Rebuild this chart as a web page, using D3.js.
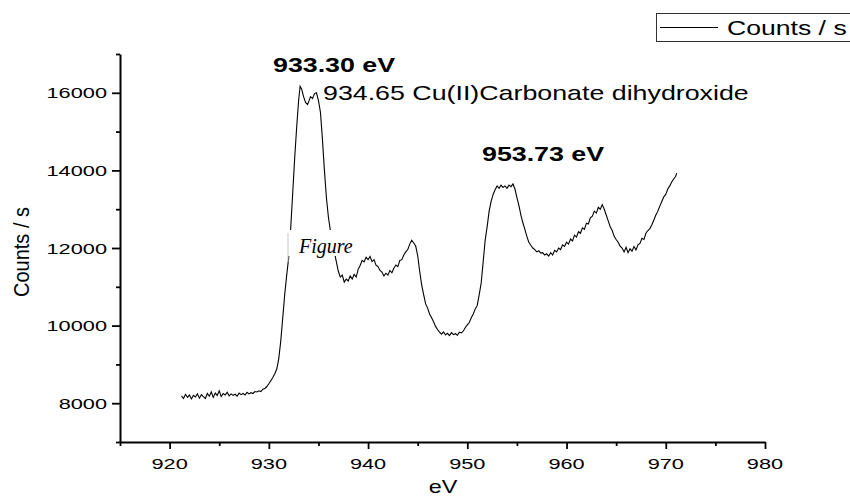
<!DOCTYPE html>
<html>
<head>
<meta charset="utf-8">
<script src="https://cdn.jsdelivr.net/npm/d3@7"></script>
<style>
  body { margin: 0; background: #fff; }
  svg { display: block; }
  text { font-family: "Liberation Sans", Arial, sans-serif; fill: #000; }
</style>
</head>
<body>
<svg id="chart" width="850" height="499"></svg>
<script>
// XPS Cu 2p spectrum
const energy = [
  921.2, 921.4, 921.6, 921.8, 922.0, 922.2, 922.4, 922.6, 922.8, 923.0,
  923.2, 923.4, 923.6, 923.8, 924.0, 924.2, 924.4, 924.6, 924.8, 925.0,
  925.2, 925.4, 925.6, 925.8, 926.0, 926.2, 926.4, 926.6, 926.8, 927.0,
  927.2, 927.4, 927.6, 927.8, 928.0, 928.2, 928.4, 928.6, 928.8, 929.0,
  929.2, 929.4, 929.6, 929.8, 930.0, 930.2, 930.4, 930.6, 930.8, 931.0,
  931.2, 931.4, 931.6, 931.8, 932.0, 932.2, 932.4, 932.6, 932.8, 933.0,
  933.15, 933.3, 933.5, 933.7, 933.9, 934.0, 934.2, 934.4, 934.6, 934.8,
  935.0, 935.2, 935.4, 935.6, 935.8, 936.0, 936.2, 936.4, 936.6, 936.8,
  937.0, 937.2, 937.4, 937.6, 937.8, 938.0, 938.2, 938.4, 938.6, 938.8,
  939.0, 939.2, 939.4, 939.6, 939.8, 940.0, 940.2, 940.4, 940.6, 940.8,
  941.0, 941.2, 941.4, 941.6, 941.8, 942.0, 942.2, 942.4, 942.6, 942.8,
  943.0, 943.2, 943.4, 943.6, 943.8, 944.0, 944.2, 944.4, 944.6, 944.8,
  945.0, 945.2, 945.4, 945.6, 945.8, 946.0, 946.2, 946.4, 946.6, 946.8,
  947.0, 947.2, 947.4, 947.6, 947.8, 948.0, 948.2, 948.4, 948.6, 948.8,
  949.0, 949.2, 949.4, 949.6, 949.8, 950.0, 950.2, 950.4, 950.6, 950.8,
  951.0, 951.2, 951.4, 951.6, 951.8, 952.0, 952.2, 952.4, 952.6, 952.8,
  953.0, 953.2, 953.4, 953.6, 953.8, 954.0, 954.2, 954.4, 954.6, 954.8,
  955.0, 955.2, 955.4, 955.6, 955.8, 956.0, 956.2, 956.4, 956.6, 956.8,
  957.0, 957.2, 957.4, 957.6, 957.8, 958.0, 958.2, 958.4, 958.6, 958.8,
  959.0, 959.2, 959.4, 959.6, 959.8, 960.0, 960.2, 960.4, 960.6, 960.8,
  961.0, 961.2, 961.4, 961.6, 961.8, 962.0, 962.2, 962.4, 962.6, 962.8,
  963.0, 963.2, 963.4, 963.6, 963.8, 964.0, 964.2, 964.4, 964.6, 964.8,
  965.0, 965.2, 965.4, 965.6, 965.8, 966.0, 966.2, 966.4, 966.6, 966.8,
  967.0, 967.2, 967.4, 967.6, 967.8, 968.0, 968.2, 968.4, 968.6, 968.8,
  969.0, 969.2, 969.4, 969.6, 969.8, 970.0, 970.2, 970.4, 970.6, 970.8,
  971.0, 971.1
];

const counts = [
  8190, 8120, 8230, 8150, 8210, 8110, 8200, 8160, 8240, 8130,
  8220, 8170, 8120, 8250, 8180, 8290, 8150, 8260, 8200, 8320,
  8170, 8250, 8210, 8280, 8190, 8240, 8200, 8230, 8180, 8260,
  8220, 8250, 8210, 8280, 8240, 8270, 8250, 8300, 8290, 8320,
  8300, 8360, 8380, 8430, 8500, 8580, 8660, 8760, 8880, 9150,
  9600, 10200, 10800, 11300, 11750, 12500, 13400, 14300, 15100, 15800,
  16170, 16100, 15900, 15750, 15700, 15760, 15900, 15850, 15980, 16000,
  15800, 15500, 14800, 14000, 13300, 12800, 12450, 12150, 11900, 11650,
  11400, 11250, 11300, 11120, 11200, 11150, 11280, 11200, 11320, 11250,
  11450, 11550, 11680, 11640, 11760, 11700, 11780, 11650, 11700, 11560,
  11520, 11420, 11380, 11280, 11350, 11300, 11420, 11360, 11480, 11560,
  11520, 11680, 11700, 11820, 11900, 11960, 12100, 12200, 12130, 12050,
  11800, 11400, 11050, 10800, 10560, 10450, 10300, 10200, 10100, 9980,
  9900, 9830, 9780, 9840, 9760, 9800, 9740, 9820, 9770, 9790,
  9750, 9830, 9810, 9860, 9950, 10020, 10080, 10200, 10300, 10430,
  10520, 10800, 11100, 11650, 12200, 12550, 12950, 13200, 13380, 13500,
  13600, 13540, 13620, 13560, 13600, 13540, 13620, 13580, 13650, 13520,
  13300, 13100, 12850, 12650, 12480, 12300, 12150, 12070, 12000, 11960,
  11900, 11930, 11870, 11880, 11820, 11850, 11790, 11880, 11820, 11940,
  11900, 12000, 11960, 12080, 12040, 12150, 12100, 12230, 12180, 12330,
  12280, 12420, 12380, 12520, 12480, 12640, 12620, 12780, 12820, 12950,
  12900, 13050, 13000, 13120, 13000, 12850, 12700, 12550, 12450, 12300,
  12220, 12150, 12050, 12000, 11900, 12020, 11880, 11980, 11920, 12040,
  11950, 12080, 12120, 12250, 12220, 12380, 12450, 12500, 12600, 12720,
  12850, 12950, 13080, 13200, 13320, 13380, 13520, 13600, 13700, 13780,
  13850, 13930
];

const xMajorTicks = [920, 930, 940, 950, 960, 970, 980];
const xMinorTicks = [915, 925, 935, 945, 955, 965, 975];
const yMajorTicks = [8000, 10000, 12000, 14000, 16000];
const yMinorTicks = [7000, 9000, 11000, 13000, 15000, 17000];

const peakLabels = [
  { text: "933.30 eV", bold: true, x: 273, y: 72 },
  { text: "934.65 Cu(II)Carbonate dihydroxide", bold: false, x: 323, y: 100 },
  { text: "953.73 eV", bold: true, x: 482, y: 161 }
];

const svg = d3.select("#chart");

const x = d3.scaleLinear().domain([915, 980]).range([120, 765]);
const y = d3.scaleLinear().domain([7000, 17000]).range([442, 54]);

// the picture is stretched sideways, so text is too
const stretch = 1.45;

// line
const pts = energy.map((e, i) => [e, counts[i]]);
svg.append("path")
  .datum(pts)
  .attr("fill", "none")
  .attr("stroke", "#000")
  .attr("stroke-width", 1.1)
  .attr("d", d3.line().x(d => x(d[0])).y(d => y(d[1])));

// axes
const xAxis = svg.append("g").attr("transform", `translate(0,${y.range()[0]})`);
xAxis.call(d3.axisBottom(x).tickValues(xMajorTicks).tickSize(7).tickSizeOuter(0).tickFormat(""));
xAxis.append("g").call(d3.axisBottom(x).tickValues(xMinorTicks).tickSize(4).tickSizeOuter(0).tickFormat(""))
  .select(".domain").remove();

const yAxis = svg.append("g").attr("transform", `translate(${x.range()[0]},0)`);
yAxis.call(d3.axisLeft(y).tickValues(yMajorTicks).tickSize(8).tickSizeOuter(0).tickFormat(""));
yAxis.append("g").call(d3.axisLeft(y).tickValues(yMinorTicks).tickSize(4).tickSizeOuter(0).tickFormat(""))
  .select(".domain").remove();

svg.selectAll(".domain").attr("stroke", "#000").attr("stroke-width", 2);
svg.selectAll(".tick line").attr("stroke", "#000").attr("stroke-width", 1.8);

// tick labels
svg.selectAll(".xlab")
  .data(xMajorTicks)
  .join("text")
  .attr("class", "xlab")
  .attr("transform", d => `translate(${x(d)},469) scale(${stretch},1)`)
  .attr("text-anchor", "middle")
  .attr("font-size", 15)
  .text(d => d);

svg.selectAll(".ylab")
  .data(yMajorTicks)
  .join("text")
  .attr("class", "ylab")
  .attr("transform", d => `translate(107,${y(d) + 5.5}) scale(${stretch},1)`)
  .attr("text-anchor", "end")
  .attr("font-size", 15)
  .text(d => d);

// axis titles
svg.append("text")
  .attr("transform", `translate(443,493) scale(1.3,1)`)
  .attr("text-anchor", "middle")
  .attr("font-size", 18)
  .text("eV");

svg.append("text")
  .attr("transform", `translate(29,252) scale(1.1,1) rotate(-90)`)
  .attr("text-anchor", "middle")
  .attr("font-size", 20)
  .text("Counts / s");

// peak annotations
svg.selectAll(".peak")
  .data(peakLabels)
  .join("text")
  .attr("class", "peak")
  .attr("transform", d => `translate(${d.x},${d.y}) scale(1.34,1)`)
  .attr("font-size", 20)
  .attr("font-weight", d => d.bold ? "bold" : "normal")
  .text(d => d.text);

// "Figure" overlay box
svg.append("rect")
  .attr("x", 288).attr("y", 230).attr("width", 52).attr("height", 26)
  .attr("fill", "#fff");
svg.append("line")
  .attr("x1", 288).attr("x2", 288).attr("y1", 233).attr("y2", 262)
  .attr("stroke", "#c8c8c8").attr("stroke-width", 1);
svg.append("text")
  .attr("x", 299).attr("y", 253)
  .style("font-family", "'Liberation Serif', 'Times New Roman', serif")
  .style("font-style", "italic")
  .attr("font-size", 20)
  .text("Figure");

// legend
const legend = svg.append("g");
legend.append("rect")
  .attr("x", 656.5).attr("y", 13.5).attr("width", 210).attr("height", 28)
  .attr("fill", "#fff").attr("stroke", "#333").attr("stroke-width", 1);
legend.append("line")
  .attr("x1", 660).attr("x2", 718).attr("y1", 27.5).attr("y2", 27.5)
  .attr("stroke", "#000").attr("stroke-width", 1.1);
legend.append("text")
  .attr("transform", `translate(727,34.5) scale(1.33,1)`)
  .attr("font-size", 20)
  .text("Counts / s");
</script>
</body>
</html>
